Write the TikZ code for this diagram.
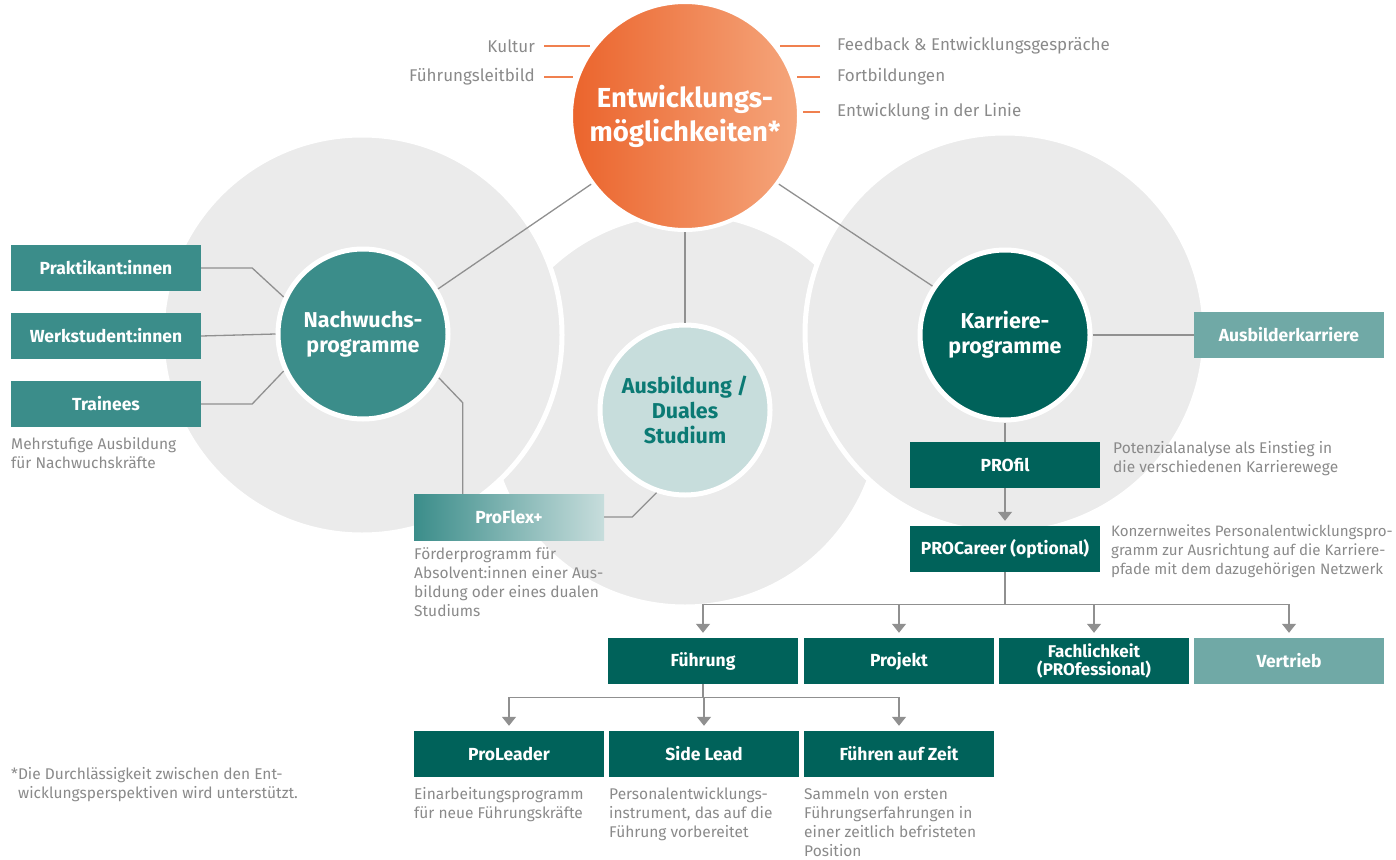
\documentclass[tikz,border=0pt]{standalone}
\usepackage{fontspec}
\setmainfont{Fira Sans}
\usetikzlibrary{arrows.meta}
\definecolor{orL}{HTML}{EB642C}
\definecolor{orR}{HTML}{F5A67C}
\definecolor{orLine}{HTML}{F0804F}
\definecolor{tealM}{HTML}{3B8D8A}
\definecolor{tealD}{HTML}{00625A}
\definecolor{tealL}{HTML}{70A9A6}
\definecolor{ausbF}{HTML}{C7DDDC}
\definecolor{ausbT}{HTML}{0B7A74}
\definecolor{bgC}{HTML}{EBEBEB}
\definecolor{lineG}{HTML}{909090}
\definecolor{txtG}{HTML}{8A8A8A}
\tikzset{
  bigc/.style={fill=bgC, draw=white, line width=5pt},
  prog/.style={circle, minimum size=170pt, inner sep=0pt, draw=white, line width=5pt, text=white, align=center, font=\bfseries\fontsize{21.5}{25}\selectfont},
  boxx/.style={minimum width=190pt, minimum height=46pt, inner sep=0pt, text=white, align=center, font=\bfseries\fontsize{17.5}{19}\selectfont},
  desc/.style={anchor=north west, inner sep=0pt, align=left, text=txtG, font=\fontsize{15.5}{19}\selectfont},
  conn/.style={draw=lineG, line width=1.3pt},
  arr/.style={conn, -{Triangle[width=14pt,length=9pt]}, shorten >=5pt},
  oline/.style={draw=orLine, line width=1.5pt},
  olab/.style={inner sep=0pt, text=txtG, font=\fontsize{17}{20}\selectfont}
}
\begin{document}
\begin{tikzpicture}[x=1pt,y=-1pt]
\useasboundingbox (0,0) rectangle (1396,859);
% background circles
\path[bigc] (685,410) circle[radius=197pt];
\path[bigc] (362,335) circle[radius=200pt];
\path[bigc] (1005,333) circle[radius=200pt];

% main circles
\node[circle, minimum size=228pt, inner sep=0pt, left color=orL, right color=orR, draw=white, line width=4pt, text=white, align=center, font=\bfseries\fontsize{27.5}{34}\selectfont] (ent) at (685,116) {Entwicklungs-\\möglichkeiten*};
\node[prog, fill=tealM] (nach) at (363,334) {Nachwuchs-\\programme};
\node[prog, fill=ausbF, text=ausbT] (ausb) at (685,410) {Ausbildung /\\Duales\\Studium};
\node[prog, fill=tealD] (kar) at (1005,335) {Karriere-\\programme};

% orange side labels
\node[olab, anchor=east] (kul) at (535,46) {Kultur};
\node[olab, anchor=east] (fl) at (535,77) {Führungsleitbild};
\node[olab, anchor=west] (fb) at (837,46) {Feedback \& Entwicklungsgespräche};
\node[olab, anchor=west] (fo) at (837,77) {Fortbildungen};
\node[olab, anchor=west] (el) at (837,112) {Entwicklung in der Linie};
\draw[oline] (kul.east) ++(9,0) coordinate (k1) -- ++(46,0);
\draw[oline] (fl.east) ++(9,0) coordinate (f1) -- ++(29,0);
\draw[oline] (fb.west) ++(-17,0) coordinate (b1) -- ++(-40,0);
\draw[oline] (fo.west) ++(-17,0) coordinate (o1) -- ++(-23,0);
\draw[oline] (el.west) ++(-17,0) coordinate (e1) -- ++(-17,0);

% left boxes
\node[boxx, fill=tealM] (prak) at (106,268) {Praktikant:innen};
\node[boxx, fill=tealM] (werk) at (106,336) {Werkstudent:innen};
\node[boxx, fill=tealM] (trai) at (106,404) {Trainees};
\node[desc] (dtrai) at (11,437.5) {Mehrstufige Ausbildung\\für Nachwuchskräfte};

% ProFlex
\node[boxx, left color=tealM, right color=ausbF] (pfx) at (509,517) {ProFlex+};
\node[desc] (dpfx) at (414,547.5) {Förderprogramm für\\Absolvent:innen einer Aus-\\bildung oder eines dualen\\Studiums};

% Karriere branch
\node[boxx, fill=tealL] (ausbk) at (1289,335) {Ausbilderkarriere};
\node[boxx, fill=tealD] (profil) at (1005,465) {PROfil};
\node[boxx, fill=tealD] (procar) at (1005,549) {PROCareer (optional)};
\node[desc] (dprofil) at (1113,441.5) {Potenzialanalyse als Einstieg in\\die verschiedenen Karrierewege};
\node[desc, font=\fontsize{15.1}{19}\selectfont] (dprocar) at (1111,524.5) {Konzernweites Personalentwicklungspro-\\gramm zur Ausrichtung auf die Karriere-\\pfade mit dem dazugehörigen Netzwerk};

\node[boxx, fill=tealD] (fuehr) at (703,661) {Führung};
\node[boxx, fill=tealD] (proj) at (899,661) {Projekt};
\node[boxx, fill=tealD, font=\bfseries\fontsize{17}{18.5}\selectfont] (fach) at (1094,661) {Fachlichkeit\\(PROfessional)};
\node[boxx, fill=tealL] (vert) at (1289,661) {Vertrieb};

\node[boxx, fill=tealD] (plead) at (509,754) {ProLeader};
\node[boxx, fill=tealD] (slead) at (704,754) {Side Lead};
\node[boxx, fill=tealD] (fzeit) at (899,754) {Führen auf Zeit};
\node[desc] (dplead) at (414,787.5) {Einarbeitungsprogramm\\für neue Führungskräfte};
\node[desc] (dslead) at (609,787.5) {Personalentwicklungs-\\instrument, das auf die\\Führung vorbereitet};
\node[desc] (dfzeit) at (804,787.5) {Sammeln von ersten\\Führungserfahrungen in\\einer zeitlich befristeten\\Position};

\node[desc] (foot) at (11,767.5) {*Die Durchlässigkeit zwischen den Ent-\\\hspace*{7pt}wicklungsperspektiven wird unterstützt.};

% connectors
\draw[conn] (prak.east) -- ++(51,0) -- (nach.155);
\draw[conn] (werk.east) -- (nach.west);
\draw[conn] (trai.east) -- ++(51,0) -- (nach.205);
\draw[conn] (ent.216) -- (nach.31);
\draw[conn] (ent.south) -- (ausb.north);
\draw[conn] (ent.324) -- (kar.146);
\draw[conn] (nach.-30) -- ++(24,25) coordinate (n1) -- (n1 |- pfx.north);
\draw[conn] (pfx.east) -- ++(28,0) -- (ausb.251);
\draw[conn] (kar.east) -- (ausbk.west);
\draw[conn] (kar.south) -- (profil.north);
\draw[arr] (profil.south) -- (procar.north);
\draw[conn] (procar.south) -- ++(0,32) coordinate (h1);
\draw[conn] (h1 -| fuehr.north) -- (h1 -| vert.north);
\foreach \b in {fuehr,proj,fach,vert} \draw[arr] (h1 -| \b.north) -- (\b.north);
\draw[conn] (fuehr.south) -- ++(0,13) coordinate (h2);
\draw[conn] (h2 -| plead.north) -- (h2 -| fzeit.north);
\foreach \b in {plead,slead,fzeit} \draw[arr] (h2 -| \b.north) -- (\b.north);
\end{tikzpicture}
\end{document}
